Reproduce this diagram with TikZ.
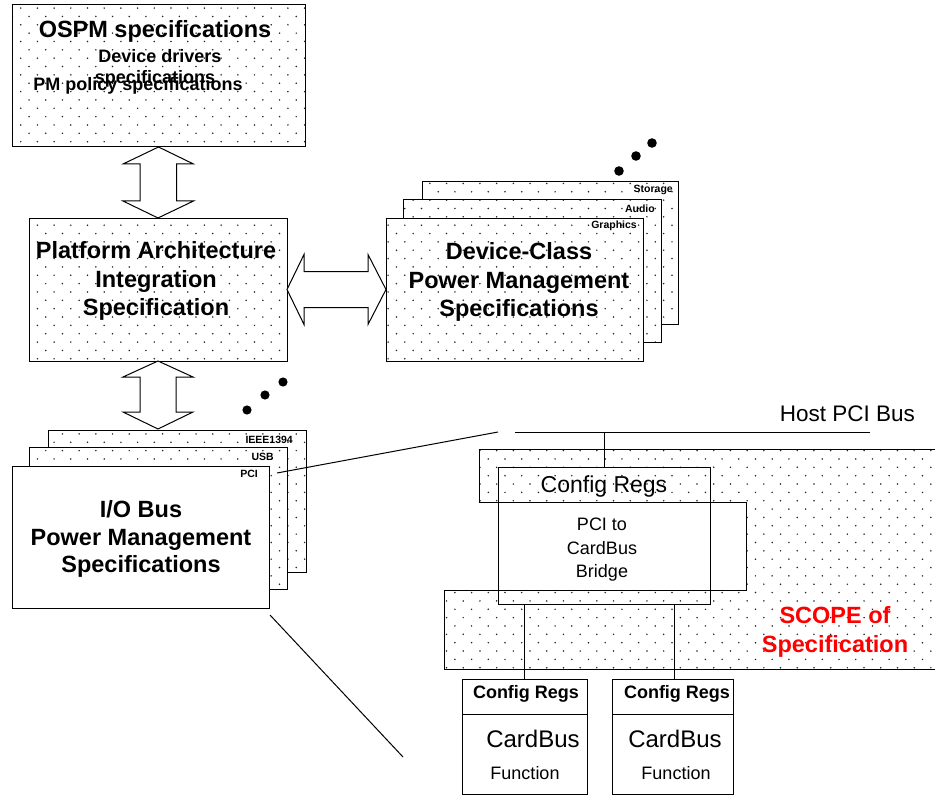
\documentclass[tikz,border=0pt]{standalone}
\usepackage{fontspec}
\setmainfont{Liberation Sans}
\usetikzlibrary{patterns}
\pgfdeclarepatternformonly{sdots}{\pgfqpoint{-1pt}{-1pt}}{\pgfqpoint{17.7pt}{17.7pt}}{\pgfqpoint{16.7pt}{16.7pt}}{%
 \pgfpathcircle{\pgfqpoint{4pt}{4pt}}{0.85pt}%
 \pgfpathcircle{\pgfqpoint{12.35pt}{12.35pt}}{0.85pt}%
 \pgfusepath{fill}}
\definecolor{scopered}{RGB}{255,0,0}
\tikzset{
 ln/.style={line width=1pt},
 dotbox/.style={draw, line width=1pt, preaction={fill=white}, pattern=sdots, pattern color=black!85, anchor=north west, inner sep=0pt, outer sep=0pt},
 plainbox/.style={draw, line width=1pt, fill=white, anchor=north west, inner sep=0pt, outer sep=0pt},
 openbox/.style={draw, line width=1pt, anchor=north west, inner sep=0pt, outer sep=0pt},
 barrow/.style={draw, line width=1pt, fill=white, line join=miter},
 bigb/.style={font=\fontsize{23.5}{28}\selectfont\bfseries, anchor=base, inner sep=0pt},
 medb/.style={font=\fontsize{18}{22}\selectfont\bfseries, anchor=base, inner sep=0pt},
 tinyb/.style={font=\fontsize{10.5}{12}\selectfont\bfseries, anchor=base east, inner sep=0pt},
 hosttxt/.style={font=\fontsize{22.5}{27}\selectfont, anchor=base east, inner sep=0pt},
 cfgbig/.style={font=\fontsize{23}{27}\selectfont, anchor=base, inner sep=0pt},
 brtxt/.style={font=\fontsize{18}{22}\selectfont, anchor=base, inner sep=0pt},
 scopetxt/.style={font=\fontsize{23.5}{28}\selectfont\bfseries, text=scopered, anchor=base, inner sep=0pt},
 cbcfg/.style={font=\fontsize{18}{22}\selectfont\bfseries, anchor=base, inner sep=0pt},
 cbbig/.style={font=\fontsize{24}{28}\selectfont, anchor=base, inner sep=0pt},
 cbfun/.style={font=\fontsize{18}{22}\selectfont, anchor=base, inner sep=0pt},
 bigdot/.style={fill=black},
}
\begin{document}
\begin{tikzpicture}[x=1pt,y=-1pt]
\useasboundingbox (0,0) rectangle (935,797);
\fill[white] (0,0) rectangle (935,797);

% OSPM
\node[dotbox, minimum width=293pt, minimum height=142pt] (ospm) at (12,5) {};
\node[bigb] (ospmT) at (155,38) {OSPM specifications};
\node[medb] (ospmA) at (160,63) {Device drivers};
\node[medb] (ospmB) at (155,84) {specifications};
\node[medb] (ospmC) at (138,91) {PM policy specifications};

% Platform
\node[dotbox, minimum width=258pt, minimum height=143pt] (pais) at (29,218) {};
\node[bigb] (paisA) at (156,258) {Platform Architecture};
\node[bigb] (paisB) at (156,287) {Integration};
\node[bigb] (paisC) at (156,315) {Specification};

% Device class stack
\node[dotbox, minimum width=256pt, minimum height=142pt] (devback) at (422,182) {};
\node[tinyb] (lstor) at (673,193) {Storage};
\node[dotbox, minimum width=258pt, minimum height=142pt] (devmid) at (403,200) {};
\node[tinyb] (laud) at (655,212) {Audio};
\node[dotbox, minimum width=257pt, minimum height=143pt] (devfront) at (386,218) {};
\node[tinyb] (lgfx) at (637,229) {Graphics};
\node[bigb] (devA) at (519,259) {Device-Class};
\node[bigb] (devB) at (519,288) {Power Management};
\node[bigb] (devC) at (519,316) {Specifications};
\fill[bigdot] (619,171) circle[radius=4.8pt];
\fill[bigdot] (636,156) circle[radius=4.8pt];
\fill[bigdot] (652,143) circle[radius=4.8pt];

% I/O bus stack
\node[dotbox, minimum width=258pt, minimum height=142pt] (ioback) at (48,430) {};
\node[tinyb] (lieee) at (293,443) {IEEE1394};
\node[dotbox, minimum width=258pt, minimum height=142pt] (iomid) at (29,447) {};
\node[tinyb] (lusb) at (274,460) {USB};
\node[plainbox, minimum width=257pt, minimum height=142pt] (iofront) at (12,466) {};
\node[tinyb] (lpci) at (258,477) {PCI};
\node[bigb] (ioA) at (141,517) {I/O Bus};
\node[bigb] (ioB) at (141,545) {Power Management};
\node[bigb] (ioC) at (141,572) {Specifications};
\fill[bigdot] (247,410) circle[radius=4.6pt];
\fill[bigdot] (265,395) circle[radius=4.6pt];
\fill[bigdot] (283,382) circle[radius=4.6pt];

% block arrows
\draw[barrow] (ospm.south) -- ++(35,17) -- ++(-17,0) -- ++(0,37) -- ++(17,0) -- (pais.north)
  -- ++(-35,-17) -- ++(17,0) -- ++(0,-37) -- ++(-17,0) -- cycle;
\coordinate (iotip) at (158,429);
\draw[barrow] (pais.south) -- ++(35,16) -- ++(-17,0) -- ++(0,35) -- ++(17,0) -- (iotip)
  -- ++(-35,-17) -- ++(17,0) -- ++(0,-35) -- ++(-17,0) -- cycle;
\draw[barrow] (pais.east) -- ++(17,-35) -- ++(0,17) -- ++(64,0) -- ++(0,-17) -- (devfront.west)
  -- ++(-18,35) -- ++(0,-17) -- ++(-64,0) -- ++(0,17) -- cycle;

% scope region
\draw[ln, pattern=sdots, pattern color=black!85] (479,449) -- (940,449) -- (940,669) -- (444,669) -- (444,590)
  -- (746,590) -- (746,502) -- (479,502) -- cycle;
\node[plainbox, minimum width=248pt, minimum height=88pt] (bridge) at (498,502) {};
\node[openbox, minimum width=212pt, minimum height=137pt] (cfg) at (498,467) {};
\node[cfgbig] (cfgT) at (604,492) {Config Regs};
\node[brtxt] (brA) at (602,530) {PCI to};
\node[brtxt] (brB) at (602,554) {CardBus};
\node[brtxt] (brC) at (602,577) {Bridge};
\node[scopetxt] (scA) at (835,623) {SCOPE of};
\node[scopetxt] (scB) at (835,652) {Specification};

% host bus
\coordinate (busL) at (515,432);
\coordinate (busR) at (870,432);
\coordinate (gapend) at (498,432);
\coordinate (pcip) at (277,473);
\node[hosttxt] (hostT) at (915,421) {Host PCI Bus};
\draw[ln] (busL) -- (busR);
\draw[ln] (cfg.north) -- (cfg.north |- busL);
\draw[ln] (pcip) -- (gapend);

% CardBus functions
\node[plainbox, minimum width=125pt, minimum height=115pt] (cb1) at (462,679) {};
\node[plainbox, minimum width=121pt, minimum height=115pt] (cb2) at (612,679) {};
\draw[ln] ([yshift=-35pt]cb1.north west) -- ([yshift=-35pt]cb1.north east);
\draw[ln] ([yshift=-35pt]cb2.north west) -- ([yshift=-35pt]cb2.north east);
\draw[ln] (cb1.north |- cfg.south) -- (cb1.north);
\draw[ln] ([xshift=2pt]cb2.north |- cfg.south) -- ([xshift=2pt]cb2.north);
\node[cbcfg] (cb1a) at (526,698) {Config Regs};
\node[cbbig] (cb1b) at (533,747) {CardBus};
\node[cbfun] (cb1c) at (525,779) {Function};
\node[cbcfg] (cb2a) at (677,698) {Config Regs};
\node[cbbig] (cb2b) at (675,747) {CardBus};
\node[cbfun] (cb2c) at (676,779) {Function};

% zoom line
\coordinate (zA) at (270,615);
\coordinate (zB) at (403,757);
\draw[ln] (zA) -- (zB);
\end{tikzpicture}
\end{document}
